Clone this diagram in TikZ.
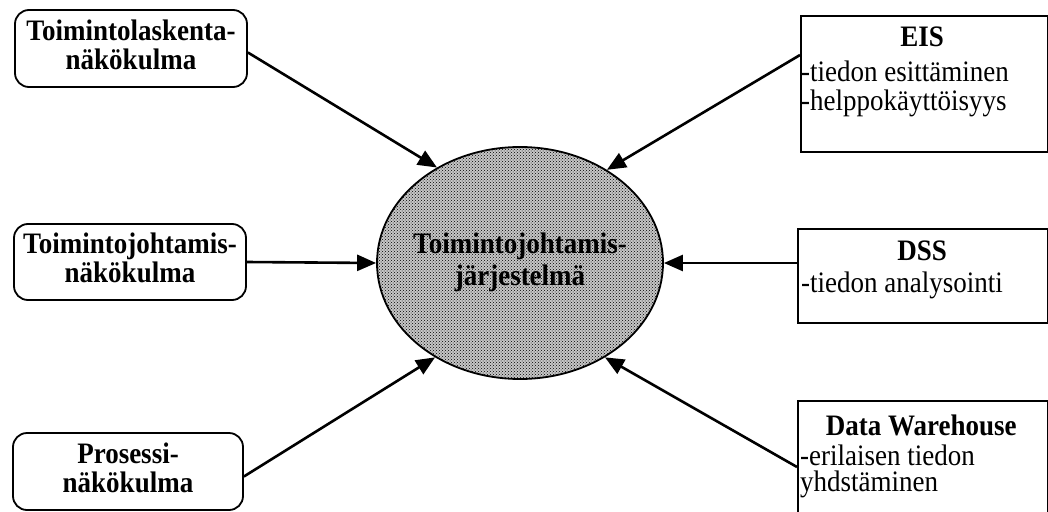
\documentclass[tikz,border=0pt]{standalone}
\usepackage{fontspec}
\setmainfont{Liberation Serif}
\usetikzlibrary{shapes.geometric,arrows.meta,patterns}
\newcommand{\bltext}[3]{\scalebox{1}[1.1]{\fontsize{27}{#3}\selectfont\bfseries\begin{tabular}{@{}c@{}}#1\\#2\end{tabular}}}
\newcommand{\rtxt}[4]{\scalebox{1}[1.1]{\parbox[t]{242pt}{\fontsize{27}{#3}\selectfont\centering\textbf{#1}\par\vspace{#2}\raggedright #4}}}
\begin{document}
\begin{tikzpicture}[x=1pt,y=-1pt,
  lbox/.style={draw, line width=1.8pt, rounded corners=14pt, inner sep=0pt},
  rbox/.style={draw, line width=1.6pt, inner sep=0pt, anchor=north west},
  rtext/.style={inner sep=0pt, anchor=base west},
  arr/.style={line width=2.6pt, -{Triangle[length=19pt,width=16pt]}}]
\useasboundingbox (0,0) rectangle (1048,511);
% left boxes
\node[lbox, minimum width=232pt, minimum height=77pt] (b1) at (131,48.5) {\bltext{Toimintolaskenta-}{näkökulma}{25.5}};
\node[lbox, minimum width=232pt, minimum height=76pt] (b2) at (130,262) {\bltext{Toimintojohtamis-}{näkökulma}{25.5}};
\node[lbox, minimum width=230pt, minimum height=77pt] (b3) at (128,471.5) {\bltext{Prosessi-}{näkökulma}{25.5}};
% centre
\node[ellipse, draw, line width=1.8pt, inner sep=0pt, minimum width=286pt, minimum height=232pt, preaction={fill=black!22}, pattern=crosshatch dots, pattern color=black] (c) at (520,263) {};
\node[inner sep=0pt] (ct) at (c.center) {\bltext{Toimintojohtamis-}{järjestelmä}{29}};
% right boxes
\node[rbox, minimum width=247pt, minimum height=136pt] (eis) at (800,15) {};
\node[rtext] (eist) at ([shift={(1pt,-32pt)}]eis.north west) {\rtxt{EIS}{6.3pt}{25.5}{-tiedon esittäminen\\-helppokäyttöisyys}};
\node[rbox, minimum width=250pt, minimum height=94pt] (dss) at (797,228) {};
\node[rtext] (dsst) at ([shift={(4pt,-32pt)}]dss.north west) {\rtxt{DSS}{3.6pt}{25.5}{-tiedon analysointi}};
\node[rbox, minimum width=250pt, minimum height=118pt] (dw) at (797,400) {};
\node[rtext] (dwt) at ([shift={(3pt,-35pt)}]dw.north west) {\rtxt{Data Warehouse}{2.8pt}{24.5}{-erilaisen tiedon\\yhdstäminen}};
% arrows
\draw[arr] ([yshift=-4pt]b1.east) -- (c.131);
\draw[arr] ([yshift=-40pt]eis.north west) -- (c.47);
\draw[arr] (b2.east) -- (c.west);
\draw[arr] (dss.west |- c.east) -- (c.east);
\draw[arr] ([yshift=-5pt]b3.east) -- (c.228);
\draw[arr] ([yshift=-67pt]dw.north west) -- (c.312);
\end{tikzpicture}
\end{document}
